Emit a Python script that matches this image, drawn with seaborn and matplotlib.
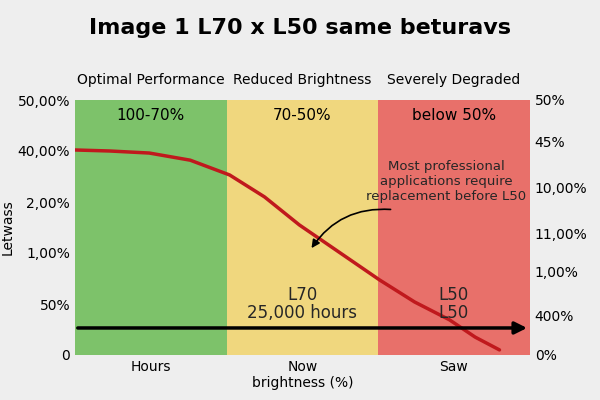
import matplotlib
matplotlib.use("Agg")
import matplotlib.pyplot as plt
import seaborn as sns
import numpy as np

sns.set_theme(style="white")
plt.rcParams['font.family'] = ['DejaVu Sans']

zones = ["Optimal Performance", "Reduced Brightness", "Severely Degraded"]
zone_ranges = ["100-70%", "70-50%", "below 50%"]
zone_colors = ["#7dc26a", "#f0d77e", "#e8706a"]
curve_x = [0.0, 0.23, 0.49, 0.76, 1.02, 1.25, 1.48, 1.75, 2.01, 2.24, 2.47, 2.64, 2.8]
curve_y = [4.02, 4.0, 3.96, 3.82, 3.53, 3.1, 2.55, 2.0, 1.47, 1.04, 0.69, 0.35, 0.1]
left_ticks = ["0", "50%", "1,00%", "2,00%", "40,00%", "50,00%"]
right_ticks = ["0%", "400%", "1,00%", "11,00%", "10,00%", "45%", "50%"]
right_pos = [0, 0.78, 1.63, 2.39, 3.29, 4.18, 5]
x_labels = ["Hours", "Now\nbrightness (%)", "Saw"]

fig = plt.figure(figsize=(6, 4), dpi=100, facecolor="#eeeeee")
ax = fig.add_axes([0.125, 0.1125, 0.758, 0.6375])
ax.set_facecolor("#eeeeee")
for i, c in enumerate(zone_colors):
    ax.axvspan(i, i + 1, color=c, lw=0)
    ax.text(i + 0.5, 5.25, zones[i], ha="center", va="bottom", fontsize=10, color="black")
    ax.text(i + 0.5, 4.7, zone_ranges[i], ha="center", va="center", fontsize=11, color="black")
sns.lineplot(x=curve_x, y=curve_y, ax=ax, color="#c0191d", lw=2.5)
ax.annotate("", xy=(3.0, 0.53), xytext=(0, 0.53),
            arrowprops=dict(arrowstyle="-|>", color="black", lw=2.5, mutation_scale=18))
ax.text(1.5, 1.0, "L70\n25,000 hours", ha="center", va="center", fontsize=12, linespacing=1.0)
ax.text(2.5, 1.0, "L50\nL50", ha="center", va="center", fontsize=12, linespacing=1.0)
ax.text(2.45, 3.4, "Most professional\napplications require\nreplacement before L50",
        ha="center", va="center", fontsize=9.5)
ax.annotate("", xy=(1.55, 2.05), xytext=(2.1, 2.85),
            arrowprops=dict(arrowstyle="-|>", color="black", lw=1.2,
                            connectionstyle="arc3,rad=0.3"))
ax.set_xlim(0, 3)
ax.set_ylim(0, 5)
ax.set_xticks([0.5, 1.5, 2.5])
ax.set_xticklabels(x_labels, fontsize=10, color="black")
ax.set_yticks(range(6))
ax.set_yticklabels(left_ticks, fontsize=10, color="black")
ax.set_ylabel("Letwass", fontsize=10, labelpad=2, color="black")
ax2 = ax.twinx()
ax2.set_ylim(0, 5)
ax2.set_yticks(right_pos)
ax2.set_yticklabels(right_ticks, fontsize=10, color="black")
for a in (ax, ax2):
    for s in a.spines.values():
        s.set_visible(False)
    a.tick_params(length=0)
fig.suptitle("Image 1 L70 x L50 same beturavs", y=0.955, fontsize=16, fontweight="bold", color="black")
fig.savefig("out.png", dpi=100, facecolor=fig.get_facecolor())
